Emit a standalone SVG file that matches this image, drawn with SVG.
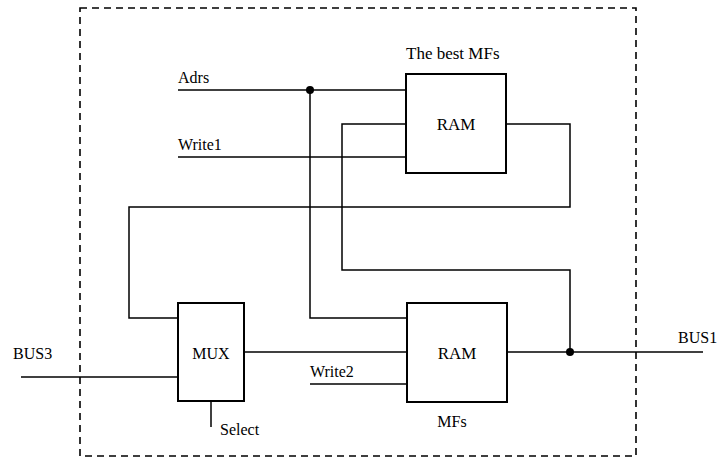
<svg xmlns="http://www.w3.org/2000/svg" width="718" height="462" viewBox="0 0 718 462">
<style>
  .bg { fill: #ffffff; }
  .border { fill: none; stroke: #000; stroke-width: 1.6; stroke-dasharray: 7 5; }
  .box { fill: #ffffff; stroke: #000; stroke-width: 2; }
  .wire { fill: none; stroke: #000; stroke-width: 1.5; }
  .dot { fill: #000; }
  text { font-family: "Liberation Serif", "Times New Roman", serif; font-size: 16px; fill: #000; }
  .big { font-size: 17px; }
  .c { text-anchor: middle; }
</style>
<rect class="bg" x="0" y="0" width="718" height="462"/>
<rect class="border" x="80" y="8" width="556" height="448"/>

<g id="connectors">
  <path class="wire" d="M178 90 H406"/>
  <path class="wire" d="M310 90 V318 H407"/>
  <path class="wire" d="M178 157 H406"/>
  <path class="wire" d="M406 124 H342 V270 H570 V352"/>
  <path class="wire" d="M506 124 H570 V207 H129 V318 H178"/>
  <path class="wire" d="M244 352 H407"/>
  <path class="wire" d="M310 384 H407"/>
  <path class="wire" d="M21 377 H178"/>
  <path class="wire" d="M211 401 V427"/>
  <path class="wire" d="M507 352 H703"/>
  <circle class="dot" cx="310" cy="90" r="4"/>
  <circle class="dot" cx="570" cy="352" r="4"/>
</g>

<g id="ram-top">
  <rect class="box" x="406" y="74" width="100" height="99"/>
  <text class="c big" x="456" y="130">RAM</text>
  <text class="big" x="406" y="59">The best MFs</text>
</g>

<g id="ram-bottom">
  <rect class="box" x="407" y="303" width="100" height="99"/>
  <text class="c big" x="457" y="359">RAM</text>
  <text class="c" x="452" y="427">MFs</text>
</g>

<g id="mux">
  <rect class="box" x="178" y="303" width="66" height="98"/>
  <text class="c" x="211" y="359">MUX</text>
</g>

<g id="labels">
  <text x="178" y="83">Adrs</text>
  <text x="178" y="150">Write1</text>
  <text x="310" y="377">Write2</text>
  <text x="13" y="359">BUS3</text>
  <text x="678" y="343">BUS1</text>
  <text x="220" y="435">Select</text>
</g>
</svg>
